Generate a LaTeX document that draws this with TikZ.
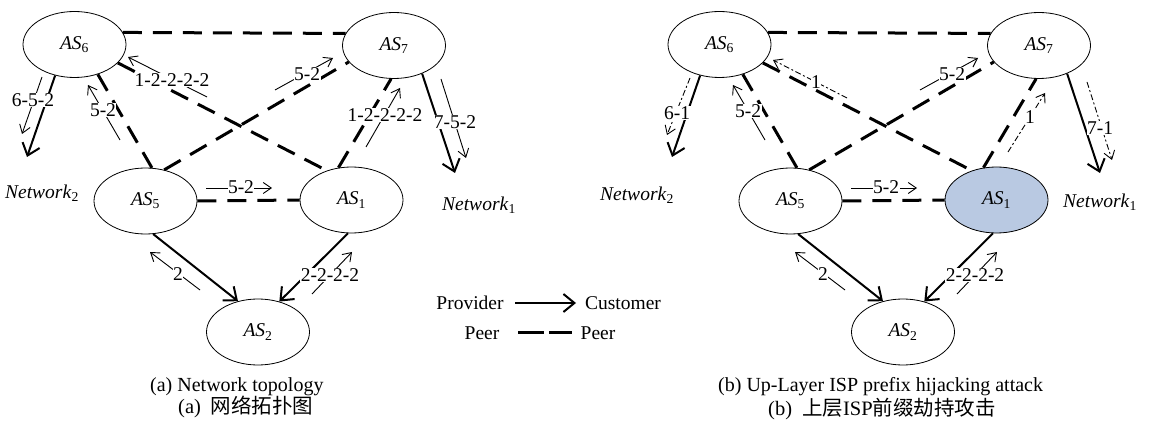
\documentclass[tikz,border=0pt]{standalone}
\usepackage{fontspec}
\setmainfont{Liberation Serif}
\newfontfamily\cjk{Noto Sans CJK SC}
\usetikzlibrary{arrows.meta,shapes.geometric}

\definecolor{hijacked}{RGB}{185,201,226}

\tikzset{
  txt/.style={font=\fontsize{19.5}{22}\selectfont},
  asnode/.style={ellipse, draw, line width=0.8pt, minimum width=103pt,
    minimum height=66pt, inner sep=0pt, txt},
  peer/.style={line width=3pt, dash pattern=on 19pt off 11pt},
  prov/.style={line width=2pt, -{Straight Barb[length=11pt,width=18pt]}},
  note/.style={line width=0.9pt, -{Straight Barb[length=8pt,width=11pt]}},
  fake/.style={note, dash pattern=on 6pt off 2.5pt on 2pt off 2.5pt},
  lbl/.style={fill=white, inner sep=0.5pt, txt},
  netlbl/.style={inner sep=0pt, txt},
  captext/.style={inner sep=0pt, font=\fontsize{20}{22}\selectfont},
  cjktext/.style={inner sep=0pt, font=\fontsize{20.5}{24}\selectfont},
}

% AS nodes with their provider/peer links; #1 = name prefix, #2 = extra style of AS1
\newcommand\topology[2]{%
  \node[asnode] (#1s6) at (74.5,44.5) {\textit{AS}\textsubscript{6}};
  \node[asnode] (#1s7) at (394,45.5) {\textit{AS}\textsubscript{7}};
  \node[asnode] (#1s5) at (145.5,201) {\textit{AS}\textsubscript{5}};
  \node[asnode,#2] (#1s1) at (351.5,200) {\textit{AS}\textsubscript{1}};
  \node[asnode] (#1s2) at (258,332) {\textit{AS}\textsubscript{2}};
  \coordinate (#1n1) at (455,173);
  \coordinate (#1n2) at (27,157);
  \draw[peer] (#1s6.14) -- (#1s7.166);
  \draw[peer] (#1s6.-52) -- (#1s5.79);
  \draw[peer] (#1s6.-23) -- (#1s1.130);
  \draw[peer] (#1s5.59) -- (#1s7.200);
  \draw[peer] (#1s1.112) -- (#1s7.265);
  \draw[peer] (#1s5.0) -- (#1s1.180);
  \draw[prov] (#1s5.-77) -- (#1s2.123);
  \draw[prov] (#1s1.264) -- (#1s2.55);
  \draw[prov] (#1s7.-45) -- (#1n1);
  \draw[prov] (#1s6.238) -- (#1n2);
}

\begin{document}
\begin{tikzpicture}[x=1pt,y=-1pt]
\useasboundingbox (0,0) rectangle (1149,427);

% ---------- (a) network topology ----------
\topology{a}{}
\draw[note] (42,77) -- (22,134);
\draw[note] (120,140) -- (88,85);
\draw[note] (207,97) -- (128,57);
\draw[note] (275,90) -- (333,58);
\draw[note] (366,147) -- (400,88);
\draw[note] (441,79) -- (466,158);
\draw[note] (206,188) -- (272,188);
\draw[note] (200,290) -- (150,252);
\draw[note] (312,294) -- (352,252);
\node[lbl] (la1) at (33,100) {6-5-2};
\node[lbl] (la2) at (103,110) {5-2};
\node[lbl] (la3) at (172,80) {1-2-2-2-2};
\node[lbl] (la4) at (307,74) {5-2};
\node[lbl] (la5) at (385,115) {1-2-2-2-2};
\node[lbl] (la6) at (455,122) {7-5-2};
\node[lbl] (la7) at (241,187) {5-2};
\node[lbl] (la8) at (178,274) {2};
\node[lbl] (la9) at (330,275) {2-2-2-2};
\node[netlbl] (anet2) at (42,193) {\textit{Network}\textsubscript{2}};
\node[netlbl] (anet1) at (479,205) {\textit{Network}\textsubscript{1}};

% ---------- legend ----------
\node[netlbl] (provider) at (470,303) {Provider};
\node[netlbl] (customer) at (623,303) {Customer};
\node[netlbl] (peerl) at (482,333) {Peer};
\node[netlbl] (peerr) at (598,333) {Peer};
\coordinate (pa) at (515,303);
\coordinate (pb) at (576,303);
\coordinate (qa) at (518,333);
\coordinate (qb) at (572,333);
\draw[prov] (pa) -- (pb);
\draw[line width=3pt, dash pattern=on 26pt off 5pt] (qa) -- (qb);

% ---------- (b) prefix hijacking ----------
\begin{scope}[xshift=645pt]
\topology{b}{fill=hijacked}
\end{scope}
\draw[fake] (690,78) -- (667,135);
\draw[note] (765,140) -- (733,85);
\draw[fake] (847,98) -- (773,60);
\draw[note] (920,90) -- (978,58);
\draw[fake] (1008,152) -- (1045,93);
\draw[fake] (1087,82) -- (1112,160);
\draw[note] (851,188) -- (917,188);
\draw[note] (845,290) -- (795,252);
\draw[note] (957,294) -- (997,252);
\node[lbl] (lb1) at (677,113) {6-1};
\node[lbl] (lb2) at (748,111) {5-2};
\node[lbl] (lb3) at (816,82) {1};
\node[lbl] (lb4) at (952,74) {5-2};
\node[lbl] (lb5) at (1030,117) {1};
\node[lbl] (lb6) at (1100,128) {7-1};
\node[lbl] (lb7) at (886,187) {5-2};
\node[lbl] (lb8) at (823,274) {2};
\node[lbl] (lb9) at (975,275) {2-2-2-2};
\node[netlbl] (bnet2) at (637,195) {\textit{Network}\textsubscript{2}};
\node[netlbl] (bnet1) at (1100,202) {\textit{Network}\textsubscript{1}};

% ---------- captions ----------
\node[captext, anchor=west] (capa) at (150,387) {(a) Network topology};
\node[cjktext, anchor=west] (capac) at (178,407) {(a)\hspace{10pt}{\cjk 网络拓扑图}};
\node[captext, anchor=west] (capb) at (718,387) {(b) Up-Layer ISP prefix hijacking attack};
\node[cjktext, anchor=west] (capbc) at (768,409) {(b)\hspace{10pt}{\cjk 上层}ISP{\cjk 前缀劫持攻击}};
\end{tikzpicture}
\end{document}
